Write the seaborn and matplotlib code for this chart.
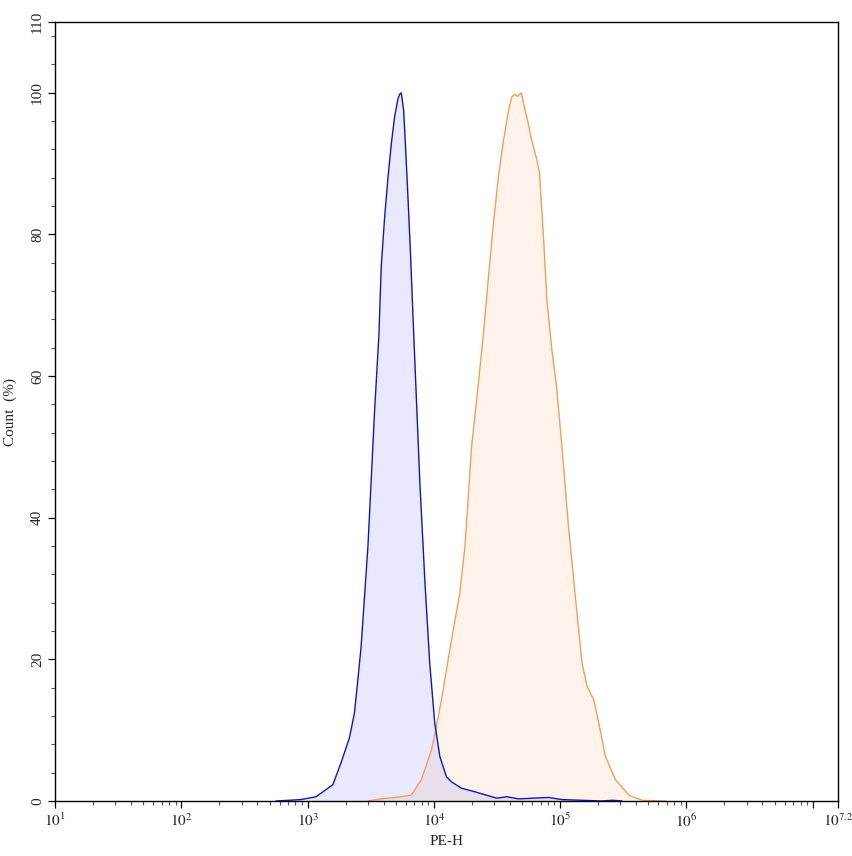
import numpy as np
import pandas as pd
import matplotlib
matplotlib.use("Agg")
import matplotlib.pyplot as plt
import matplotlib.ticker as mticker
import seaborn as sns

# ---- data (log10 of PE-H, count %) ----
blue_log = [2.749, 2.948, 3.067, 3.200, 3.265, 3.331, 3.371, 3.398, 3.424, 3.451,
            3.478, 3.504, 3.530, 3.565, 3.583, 3.610, 3.637, 3.663, 3.689,
            3.716, 3.730, 3.742, 3.761, 3.777, 3.796, 3.814, 3.835, 3.888,
            3.928, 3.967, 4.007, 4.047, 4.100, 4.140, 4.219, 4.325, 4.498, 4.577,
            4.670, 4.909, 5.014, 5.332, 5.412, 5.491]
blue_count = [0, 0.2, 0.6, 2.3, 5.4, 8.9, 12.4, 17.1, 21.8, 28.9,
              36, 45.4, 54.9, 65.9, 75.4, 82.4, 88.1, 92.8, 96.6,
              99.2, 99.8, 100, 97.5, 91.9, 84.8, 77.7, 68.3, 45.4,
              31.3, 19.5, 11, 6.3, 3.4, 2.7, 1.8, 1.3, 0.4, 0.6,
              0.3, 0.5, 0.2, 0, 0.1, 0]

orange_log = [3.478, 3.583, 3.742, 3.822, 3.901, 3.981, 4.020, 4.060, 4.140, 4.206,
              4.246, 4.273, 4.299, 4.352, 4.392, 4.432, 4.471, 4.511, 4.551,
              4.591, 4.617, 4.639, 4.663, 4.692, 4.723, 4.742, 4.763, 4.789, 4.816,
              4.837, 4.855, 4.874, 4.895, 4.935, 4.969, 5.014, 5.068, 5.120, 5.173,
              5.213, 5.266, 5.306, 5.358, 5.438, 5.545, 5.650, 5.835]
orange_count = [0, 0.3, 0.6, 0.85, 3, 7.2, 10.5, 14.3, 22.8, 29.4,
                36, 43.1, 50.1, 58.9, 65.9, 73.9, 81.5, 88.1, 93.3,
                97.5, 99.4, 99.8, 99.5, 100, 97.5, 96.1, 94.2, 92.3, 90.5,
                88.6, 83.4, 77.7, 70.7, 63.6, 58.9, 50.1, 38.3, 28.9, 19.5,
                16.2, 14.3, 11, 6.3, 3, 0.8, 0.1, 0]

x_tick_exps = [1, 2, 3, 4, 5, 6, 7, 7.2]
x_tick_labels = ["$10^{1}$", "$10^{2}$", "$10^{3}$", "$10^{4}$", "$10^{5}$",
                 "$10^{6}$", "", "$10^{7.2}$"]
y_ticks = [0, 20, 40, 60, 80, 100, 110]

sns.set_theme(style="ticks")
plt.rcParams["font.family"] = ["Liberation Serif", "DejaVu Serif"]
plt.rcParams["mathtext.fontset"] = "stix"

df_b = pd.DataFrame({"PE-H": 10 ** np.array(blue_log), "Count": blue_count})
df_o = pd.DataFrame({"PE-H": 10 ** np.array(orange_log), "Count": orange_count})

fig = plt.figure(figsize=(8.53, 8.56), dpi=100)
ax = fig.add_axes([55 / 853, 55 / 856, (838 - 55) / 853, (801 - 22) / 856])

ax.fill_between(df_b["PE-H"], df_b["Count"], color="#0000ff", alpha=0.09, lw=0)
ax.fill_between(df_o["PE-H"], df_o["Count"], color="#f59137", alpha=0.1, lw=0)
sns.lineplot(data=df_o, x="PE-H", y="Count", ax=ax, color="#eea060", lw=1.0,
             sort=False, estimator=None)
sns.lineplot(data=df_b, x="PE-H", y="Count", ax=ax, color="#1515b5", lw=1.0,
             sort=False, estimator=None)

ax.set_xscale("log")
ax.set_xlim(10, 10 ** 7.2)
ax.set_ylim(0, 110)
ax.xaxis.set_major_locator(mticker.FixedLocator([10 ** e for e in x_tick_exps]))
ax.xaxis.set_major_formatter(mticker.FixedFormatter(x_tick_labels))
ax.xaxis.set_minor_locator(mticker.LogLocator(base=10, subs=np.arange(2, 10)))
ax.xaxis.set_minor_formatter(mticker.NullFormatter())
ax.yaxis.set_major_locator(mticker.FixedLocator(y_ticks))
ax.yaxis.set_minor_locator(mticker.MultipleLocator(4))

ax.tick_params(axis="both", which="major", length=5, width=0.9, color="black",
               labelsize=11, direction="out")
ax.tick_params(axis="both", which="minor", length=3, width=0.8, color="#555555",
               direction="out")
ax.tick_params(axis="y", labelrotation=90, pad=3)
for lab in ax.get_yticklabels():
    lab.set_verticalalignment("center")
ax.tick_params(axis="x", pad=3)

for s in ax.spines.values():
    s.set_visible(True)
    s.set_color("black")
    s.set_linewidth(1.0)

ax.set_xlabel("PE-H", fontsize=11, labelpad=4)
ax.set_ylabel("Count  (%)", fontsize=11, labelpad=10)
ax.set_facecolor("white")

fig.savefig("out.png", dpi=100, facecolor="white")
